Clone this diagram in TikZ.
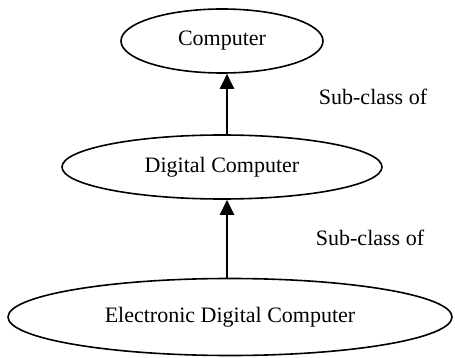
\documentclass[tikz,border=0pt]{standalone}
\usepackage{fontspec}
\setmainfont{Liberation Serif}
\usetikzlibrary{shapes.geometric,arrows.meta}
\begin{document}
\begin{tikzpicture}[x=1pt,y=-1pt,
  cls/.style={draw,ellipse,line width=1.6pt,inner sep=0pt,font=\fontsize{22}{26}\selectfont},
  arr/.style={line width=2.2pt,-{Triangle[length=15pt,width=14pt]}},
  lbl/.style={font=\fontsize{22}{26}\selectfont,inner sep=0pt}]
\useasboundingbox (0,0) rectangle (455,358);
\node[cls,minimum width=202pt,minimum height=64pt] (c) at (222,41) {Computer};
\node[cls,minimum width=320pt,minimum height=64pt] (dc) at (222,167) {Digital Computer};
\node[cls,minimum width=444pt,minimum height=77pt] (edc) at (230,317) {Electronic Digital Computer};
\draw[arr] ([xshift=5pt]dc.north) -- ([xshift=5pt]c.south);
\draw[arr] ([xshift=-3pt]edc.north) -- ([xshift=5pt]dc.south);
\node[lbl] (l1) at (373,97) {Sub-class of};
\node[lbl] (l2) at (370,238) {Sub-class of};
\end{tikzpicture}
\end{document}
